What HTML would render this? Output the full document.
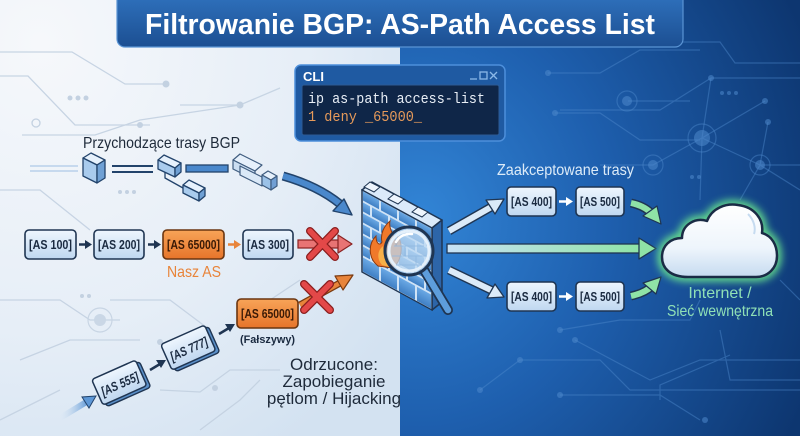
<!DOCTYPE html>
<html><head><meta charset="utf-8"><style>
html,body{margin:0;padding:0;width:800px;height:436px;overflow:hidden;background:#e8eff7}
svg{display:block}
text{font-family:"Liberation Sans",sans-serif}
text.mono{font-family:"Liberation Mono","DejaVu Sans Mono",monospace}
</style></head><body>
<svg width="800" height="436" viewBox="0 0 800 436" xmlns="http://www.w3.org/2000/svg">
<defs>
<radialGradient id="lbg" cx="0.1" cy="0.1" r="1.1">
<stop offset="0" stop-color="#f6f8fb"/><stop offset="0.6" stop-color="#e6eef7"/><stop offset="1" stop-color="#d3e2f1"/></radialGradient>
<radialGradient id="rbg" cx="0.05" cy="0.5" r="1.05">
<stop offset="0" stop-color="#3285d6"/><stop offset="0.45" stop-color="#1e5fae"/><stop offset="1" stop-color="#0d3670"/></radialGradient>
<linearGradient id="ban" x1="0" y1="0" x2="0" y2="1"><stop offset="0" stop-color="#3073bf"/><stop offset="1" stop-color="#1c4f92"/></linearGradient>
<linearGradient id="box" x1="0" y1="0" x2="0" y2="1"><stop offset="0" stop-color="#eef6fe"/><stop offset="1" stop-color="#bfd7f0"/></linearGradient>
<linearGradient id="obox" x1="0" y1="0" x2="0" y2="1"><stop offset="0" stop-color="#f8a458"/><stop offset="1" stop-color="#e6742a"/></linearGradient>
<linearGradient id="cloud" x1="0" y1="0" x2="0" y2="1"><stop offset="0" stop-color="#ffffff"/><stop offset="0.6" stop-color="#eef5fc"/><stop offset="1" stop-color="#c6dbf0"/></linearGradient>
<linearGradient id="mid" x1="0" y1="0" x2="1" y2="0"><stop offset="0" stop-color="#c8e2f6"/><stop offset="1" stop-color="#8fe3a6"/></linearGradient>
<linearGradient id="wall" x1="0" y1="0" x2="0" y2="1"><stop offset="0" stop-color="#6aa8e4"/><stop offset="1" stop-color="#3f7fc4"/></linearGradient>
<linearGradient id="inarr" x1="0" y1="0" x2="1" y2="0"><stop offset="0" stop-color="#cfe0f1" stop-opacity="0"/><stop offset="1" stop-color="#5d97d6"/></linearGradient>
<filter id="glow" x="-30%" y="-30%" width="160%" height="160%"><feGaussianBlur stdDeviation="4"/></filter>
</defs>

<!-- backgrounds -->
<rect x="0" y="0" width="400" height="436" fill="url(#lbg)"/>
<rect x="400" y="0" width="400" height="436" fill="url(#rbg)"/>

<!-- left circuit lines -->
<g stroke="#c3d1e1" stroke-width="1.3" fill="none" opacity="0.9">
<polyline points="0,52 72,52 125,84 166,84"/>
<polyline points="0,76 28,76 75,125 150,125"/>
<polyline points="22,135 95,135 140,120 240,105"/>
<polyline points="180,105 240,105 280,88"/>
<polyline points="0,190 40,190 90,230"/>
<polyline points="0,300 60,300 90,320 120,320"/>
<polyline points="20,360 70,340 140,340"/>
<polyline points="0,420 60,390"/>
<polyline points="110,300 170,300 210,330"/>
<polyline points="160,390 200,392 230,370 280,370"/>
<polyline points="200,430 240,400 260,380"/>
<polyline points="270,300 300,280"/>
</g>
<g fill="#c3d1e1">
<circle cx="166" cy="84" r="3.5"/><circle cx="240" cy="105" r="3.5"/><circle cx="140" cy="125" r="3"/>
<circle cx="70" cy="98" r="2.5"/><circle cx="78" cy="98" r="2.5"/><circle cx="86" cy="98" r="2.5"/>
<circle cx="120" cy="192" r="2"/><circle cx="127" cy="192" r="2"/><circle cx="134" cy="192" r="2"/>
<circle cx="82" cy="296" r="2"/><circle cx="89" cy="296" r="2"/>
<circle cx="215" cy="388" r="3"/><circle cx="160" cy="342" r="3"/>
</g>
<circle cx="36" cy="123" r="4" fill="none" stroke="#c3d1e1" stroke-width="1.3"/>
<circle cx="100" cy="320" r="12" fill="none" stroke="#c8d5e4" stroke-width="1.2"/>
<circle cx="100" cy="320" r="6" fill="#cad7e6"/>

<!-- right circuit lines -->
<g stroke="#4e89cc" stroke-width="1.2" fill="none" opacity="0.45">
<polyline points="640,42 720,42 735,63 800,63"/>
<polyline points="548,73 600,73 640,50 700,50"/>
<polyline points="711,78 800,78"/>
<polyline points="711,78 702,138"/>
<polyline points="711,78 660,110 560,110"/>
<polyline points="628,101 690,101"/>
<polyline points="555,113 600,113 640,140 700,140"/>
<polyline points="702,138 765,101"/>
<polyline points="702,138 653,165 600,165"/>
<polyline points="702,138 760,165 800,190"/>
<polyline points="768,122 760,165 740,200"/>
<polyline points="702,138 700,200"/>
<polyline points="760,165 800,165"/>
<polyline points="560,330 620,320 690,320 700,300"/>
<polyline points="575,340 650,380 700,360 740,360 800,360"/>
<polyline points="480,390 520,360 600,360 630,390 800,390"/>
<polyline points="560,395 660,395 700,420"/>
<polyline points="660,400 660,385 730,355"/>
<polyline points="780,280 800,300"/>
<polyline points="720,330 730,380 800,380"/>
</g>
<g fill="#4e89cc" opacity="0.55">
<circle cx="711" cy="78" r="3"/><circle cx="765" cy="101" r="3"/><circle cx="768" cy="122" r="3"/>
<circle cx="548" cy="73" r="3"/><circle cx="555" cy="113" r="3"/>
<circle cx="722" cy="93" r="2"/><circle cx="729" cy="93" r="2"/><circle cx="736" cy="93" r="2"/>
<circle cx="692" cy="177" r="2"/><circle cx="699" cy="177" r="2"/>
<circle cx="560" cy="330" r="3"/><circle cx="575" cy="340" r="3"/><circle cx="520" cy="360" r="3"/>
<circle cx="560" cy="395" r="3"/><circle cx="705" cy="420" r="3"/><circle cx="480" cy="390" r="3"/>
<circle cx="627" cy="101" r="5"/><circle cx="702" cy="138" r="8"/><circle cx="653" cy="165" r="5"/><circle cx="760" cy="165" r="5"/>
</g>
<g fill="none" stroke="#4e89cc" stroke-width="1.2" opacity="0.45">
<circle cx="627" cy="101" r="10"/><circle cx="702" cy="138" r="14"/><circle cx="653" cy="165" r="10"/><circle cx="760" cy="165" r="10"/>
</g>

<!-- title banner -->
<rect x="117" y="-8" width="566" height="55" rx="8" fill="url(#ban)" stroke="#5a94d4" stroke-width="1.2"/>
<text x="145" y="34" font-size="29" font-weight="bold" fill="#ffffff" textLength="510" lengthAdjust="spacingAndGlyphs">Filtrowanie BGP: AS-Path Access List</text>

<!-- CLI window -->
<rect x="295" y="65" width="210" height="76" rx="6" fill="#1f5aa2" stroke="#4d8fdb" stroke-width="1.5"/>
<rect x="302" y="85" width="197" height="50" rx="2" fill="#0f2648" stroke="#2c5a94" stroke-width="1"/>
<text x="303" y="81" font-size="13" font-weight="bold" fill="#ffffff">CLI</text>
<g stroke="#8bb8e8" stroke-width="1.3" fill="none">
<line x1="470" y1="79" x2="477" y2="79"/><rect x="480" y="72" width="7" height="7"/>
<line x1="490" y1="72" x2="497" y2="79"/><line x1="497" y1="72" x2="490" y2="79"/>
</g>
<text class="mono" x="308" y="103" font-size="15" fill="#e8eef6" textLength="177" lengthAdjust="spacingAndGlyphs">ip as-path access-list</text>
<text class="mono" x="308" y="121" font-size="15" fill="#e69a5a" textLength="114" lengthAdjust="spacingAndGlyphs">1 deny _65000_</text>

<!-- incoming label -->
<text x="83" y="148" font-size="16" fill="#1e2a3a" textLength="157" lengthAdjust="spacingAndGlyphs">Przychodzące trasy BGP</text>

<!-- top-left decorative blocks -->
<g stroke-width="1.5">
<line x1="30" y1="166" x2="78" y2="166" stroke="#b8d0ea"/>
<line x1="30" y1="171" x2="78" y2="171" stroke="#b8d0ea"/>
</g>
<g stroke="#22436b" stroke-width="1.3" stroke-linejoin="round">
<polygon points="83,158 91,153 105,160 97,165" fill="#e6f1fc"/>
<polygon points="83,158 97,165 97,183 83,176" fill="#a9cbed"/>
<polygon points="97,165 105,160 105,178 97,183" fill="#6fa0d4"/>
</g>
<g stroke="#22436b" stroke-width="2">
<line x1="112" y1="166" x2="153" y2="166"/><line x1="112" y1="172" x2="153" y2="172"/>
</g>
<g stroke="#22436b" stroke-width="1.3" stroke-linejoin="round">
<polygon points="158,160 164,155 181,163 175,168" fill="#e6f1fc"/>
<polygon points="158,160 175,168 175,177 158,169" fill="#a9cbed"/>
<polygon points="175,168 181,163 181,172 175,177" fill="#6fa0d4"/>
<polyline points="165,172 165,178 183,188" fill="none"/>
<polygon points="183,185 189,180 205,188 199,193" fill="#e6f1fc"/>
<polygon points="183,185 199,193 199,201 183,193" fill="#a9cbed"/>
<polygon points="199,193 205,188 205,196 199,201" fill="#6fa0d4"/>
</g>
<rect x="186" y="165" width="42" height="7" fill="#4a88cc" stroke="#22436b" stroke-width="1.3"/>
<g stroke="#22436b" stroke-width="1.2" stroke-linejoin="round" opacity="0.85">
<polygon points="233,160 240,154 262,165 255,171" fill="#e6f1fc"/>
<polygon points="233,160 255,171 255,180 233,169" fill="#c6dcf2"/>
<polygon points="240,166 262,177 262,186 240,175" fill="#d8e8f8"/>
<polygon points="262,175 268,171 277,176 271,180" fill="#e6f1fc"/>
<polygon points="262,175 271,180 271,190 262,185" fill="#8fbbe6"/>
<polygon points="271,180 277,176 277,186 271,190" fill="#5d92cf"/>
</g>
<!-- blue curved arrow into firewall -->
<path d="M283,176 Q318,186 340,204" fill="none" stroke="#22436b" stroke-width="9" stroke-linecap="butt"/>
<path d="M283,176 Q318,186 340,204" fill="none" stroke="#4a88cc" stroke-width="6"/>
<polygon points="352,215 333,211 344,199" fill="#4a88cc" stroke="#22436b" stroke-width="1.4" stroke-linejoin="round"/>

<!-- row 1 -->
<g stroke="#1f3552" stroke-width="1.6">
<rect x="25" y="230" width="51" height="29" rx="4" fill="url(#box)"/>
<rect x="94" y="230" width="50" height="29" rx="4" fill="url(#box)"/>
<rect x="163" y="230" width="61" height="29" rx="4" fill="url(#obox)" stroke="#6a3510"/>
<rect x="243" y="230" width="50" height="29" rx="4" fill="url(#box)"/>
</g>
<g font-size="13" font-weight="bold" fill="#1a2a40">
<text x="29" y="249" textLength="43" lengthAdjust="spacingAndGlyphs">[AS 100]</text>
<text x="98" y="249" textLength="42" lengthAdjust="spacingAndGlyphs">[AS 200]</text>
<text x="167" y="249" textLength="53" lengthAdjust="spacingAndGlyphs" fill="#3a1a06">[AS 65000]</text>
<text x="247" y="249" textLength="42" lengthAdjust="spacingAndGlyphs">[AS 300]</text>
</g>
<g stroke="#1f3552" stroke-width="2.5"><line x1="79" y1="244.5" x2="87" y2="244.5"/><line x1="148" y1="244.5" x2="156" y2="244.5"/></g>
<g fill="#1f3552"><polygon points="92,244.5 85,240 85,249"/><polygon points="161,244.5 154,240 154,249"/></g>
<line x1="228" y1="244.5" x2="236" y2="244.5" stroke="#e8843a" stroke-width="2.5"/>
<polygon points="241,244.5 234,240 234,249" fill="#e8843a"/>
<text x="167" y="277" font-size="16" fill="#e8843a" textLength="54" lengthAdjust="spacingAndGlyphs">Nasz AS</text>
<!-- blocked arrow row 1 -->
<rect x="298" y="240" width="42" height="8" fill="#e87474" stroke="#8a2222" stroke-width="1.2"/>
<polygon points="352,244 338,235 338,253" fill="#e87474" stroke="#8a2222" stroke-width="1.2" stroke-linejoin="round"/>
<g stroke-linecap="round">
<line x1="310" y1="231" x2="335" y2="257" stroke="#8a1e1e" stroke-width="8"/>
<line x1="335" y1="231" x2="310" y2="257" stroke="#8a1e1e" stroke-width="8"/>
<line x1="310" y1="231" x2="335" y2="257" stroke="#e34848" stroke-width="5.5"/>
<line x1="335" y1="231" x2="310" y2="257" stroke="#e34848" stroke-width="5.5"/>
</g>

<!-- row 2 (fake) -->
<path d="M60,418 L88,401" stroke="url(#inarr)" stroke-width="6" fill="none"/>
<polygon points="96,396 82,397 89,408" fill="#5d97d6" stroke="#22436b" stroke-width="1"/>
<g transform="translate(121,384) rotate(-24)">
<rect x="-22" y="-13" width="48" height="28" rx="3" fill="#5a8fc8" stroke="#1f3552" stroke-width="1.4"/>
<rect x="-25" y="-16" width="48" height="28" rx="3" fill="url(#box)" stroke="#1f3552" stroke-width="1.5"/>
<text x="-21" y="4" font-size="13" font-weight="bold" font-style="italic" fill="#1a2a40" textLength="40" lengthAdjust="spacingAndGlyphs">[AS 555]</text>
</g>
<g transform="translate(190,349) rotate(-24)">
<rect x="-22" y="-13" width="48" height="28" rx="3" fill="#5a8fc8" stroke="#1f3552" stroke-width="1.4"/>
<rect x="-25" y="-16" width="48" height="28" rx="3" fill="url(#box)" stroke="#1f3552" stroke-width="1.5"/>
<text x="-21" y="4" font-size="13" font-weight="bold" font-style="italic" fill="#1a2a40" textLength="40" lengthAdjust="spacingAndGlyphs">[AS 777]</text>
</g>
<g stroke="#1f3552" stroke-width="2.5"><line x1="150" y1="370" x2="160" y2="364"/><line x1="219" y1="334" x2="229" y2="328"/></g>
<g fill="#1f3552"><polygon points="166,360 156,360 161,368"/><polygon points="235,324 225,324 230,332"/></g>
<rect x="237" y="299" width="61" height="29" rx="4" fill="url(#obox)" stroke="#6a3510" stroke-width="1.6"/>
<text x="241" y="318" font-size="13" font-weight="bold" fill="#3a1a06" textLength="53" lengthAdjust="spacingAndGlyphs">[AS 65000]</text>
<text x="240" y="343" font-size="11" font-weight="bold" fill="#1a2a40" textLength="55" lengthAdjust="spacingAndGlyphs">(Fałszywy)</text>
<!-- orange arrow row 2 -->
<path d="M300,305 L340,283" stroke="#7a3a10" stroke-width="7" fill="none"/>
<path d="M300,305 L340,283" stroke="#e8843a" stroke-width="4.5" fill="none"/>
<polygon points="353,275 335,276 343,290" fill="#e8843a" stroke="#7a3a10" stroke-width="1.2" stroke-linejoin="round"/>
<g stroke-linecap="round">
<line x1="304" y1="284" x2="330" y2="310" stroke="#8a1e1e" stroke-width="8"/>
<line x1="330" y1="284" x2="304" y2="310" stroke="#8a1e1e" stroke-width="8"/>
<line x1="304" y1="284" x2="330" y2="310" stroke="#e34848" stroke-width="5.5"/>
<line x1="330" y1="284" x2="304" y2="310" stroke="#e34848" stroke-width="5.5"/>
</g>
<g font-size="17" fill="#1e2a3a" text-anchor="middle">
<text x="334" y="370">Odrzucone:</text>
<text x="334" y="387">Zapobieganie</text>
<text x="334" y="404">pętlom / Hijacking</text>
</g>

<!-- firewall -->
<polygon points="362,190 372,182 442,220 432,228" fill="#dbeafa" stroke="#1f3552" stroke-width="1.5" stroke-linejoin="round"/>
<g stroke="#1f3552" stroke-width="1" fill="#eef5fd">
<polygon points="364,187 370,182 380,187 374,192"/>
<polygon points="388,199 394,194 404,199 398,204"/>
<polygon points="412,212 418,207 428,212 422,217"/>
</g>
<polygon points="432,228 442,220 442,302 432,310" fill="#2d65a8" stroke="#1f3552" stroke-width="1.5" stroke-linejoin="round"/>
<g transform="matrix(1,0.543,0,1,362,190)">
<rect x="0" y="0" width="70" height="82" fill="#cfe3f6"/>
<g fill="url(#wall)">
<rect x="1" y="1" width="16" height="9"/><rect x="19" y="1" width="16" height="9"/><rect x="37" y="1" width="16" height="9"/><rect x="55" y="1" width="14" height="9"/>
<rect x="1" y="12" width="7" height="9"/><rect x="10" y="12" width="16" height="9"/><rect x="28" y="12" width="16" height="9"/><rect x="46" y="12" width="16" height="9"/><rect x="64" y="12" width="5" height="9"/>
<rect x="1" y="23" width="16" height="9"/><rect x="19" y="23" width="16" height="9"/><rect x="37" y="23" width="16" height="9"/><rect x="55" y="23" width="14" height="9"/>
<rect x="1" y="34" width="7" height="9"/><rect x="10" y="34" width="16" height="9"/><rect x="28" y="34" width="16" height="9"/><rect x="46" y="34" width="16" height="9"/><rect x="64" y="34" width="5" height="9"/>
<rect x="1" y="45" width="16" height="9"/><rect x="19" y="45" width="16" height="9"/><rect x="37" y="45" width="16" height="9"/><rect x="55" y="45" width="14" height="9"/>
<rect x="1" y="56" width="7" height="9"/><rect x="10" y="56" width="16" height="9"/><rect x="28" y="56" width="16" height="9"/><rect x="46" y="56" width="16" height="9"/><rect x="64" y="56" width="5" height="9"/>
<rect x="1" y="67" width="16" height="14"/><rect x="19" y="67" width="16" height="14"/><rect x="37" y="67" width="16" height="14"/><rect x="55" y="67" width="14" height="14"/>
</g>
<rect x="0" y="0" width="70" height="82" fill="none" stroke="#1f3552" stroke-width="1.5"/>
</g>
<!-- flame -->
<path d="M378,266 C368,258 368,244 376,236 C376,244 380,246 382,242 C380,234 384,226 390,221 C388,230 396,236 396,246 C398,242 398,238 397,235 C404,244 402,262 392,268 Z" fill="#f0792a" stroke="#8a3a10" stroke-width="1"/>
<path d="M382,265 C376,258 378,250 383,246 C383,252 387,254 388,250 C392,254 394,262 389,267 Z" fill="#f8b048"/>
<!-- magnifier -->
<line x1="424" y1="270" x2="448" y2="310" stroke="#1f3552" stroke-width="10" stroke-linecap="round"/>
<line x1="424" y1="270" x2="448" y2="310" stroke="#5d9ddc" stroke-width="6.5" stroke-linecap="round"/>
<circle cx="409" cy="251" r="24" fill="#bcd8f2" fill-opacity="0.75" stroke="#1f3552" stroke-width="3"/>
<circle cx="409" cy="251" r="20" fill="none" stroke="#e4f0fb" stroke-width="3"/>
<g stroke="#8fb8e0" stroke-width="1" opacity="0.8">
<line x1="394" y1="246" x2="424" y2="246"/><line x1="392" y1="256" x2="426" y2="256"/><line x1="396" y1="265" x2="422" y2="265"/>
<line x1="405" y1="246" x2="405" y2="256"/><line x1="416" y1="256" x2="416" y2="265"/>
</g>
<path d="M396,242 A16,16 0 0 1 412,234" fill="none" stroke="#ffffff" stroke-width="2.5" stroke-linecap="round"/>

<!-- right side arrows -->
<path d="M449,231 L493,206" stroke="#1f3552" stroke-width="9" fill="none"/>
<path d="M449,231 L493,206" stroke="#dbeaf8" stroke-width="6" fill="none"/>
<polygon points="504,199 486,200 495,214" fill="#dbeaf8" stroke="#1f3552" stroke-width="1.3" stroke-linejoin="round"/>
<path d="M449,270 L493,291" stroke="#1f3552" stroke-width="9" fill="none"/>
<path d="M449,270 L493,291" stroke="#dbeaf8" stroke-width="6" fill="none"/>
<polygon points="504,297 487,298 495,284" fill="#dbeaf8" stroke="#1f3552" stroke-width="1.3" stroke-linejoin="round"/>
<rect x="447" y="244" width="194" height="9" fill="url(#mid)" stroke="#1f3552" stroke-width="1.3"/>
<polygon points="656,248.5 639,238 639,259" fill="#8fe3a6" stroke="#1f3552" stroke-width="1.3" stroke-linejoin="round"/>

<text x="497" y="175" font-size="16" fill="#dcebf8" textLength="137" lengthAdjust="spacingAndGlyphs">Zaakceptowane trasy</text>
<g stroke="#1f3552" stroke-width="1.6">
<rect x="507" y="187" width="49" height="29" rx="4" fill="url(#box)"/>
<rect x="576" y="187" width="48" height="29" rx="4" fill="url(#box)"/>
<rect x="507" y="282" width="49" height="29" rx="4" fill="url(#box)"/>
<rect x="576" y="282" width="48" height="29" rx="4" fill="url(#box)"/>
</g>
<g font-size="13" font-weight="bold" fill="#1a2a40">
<text x="511" y="206" textLength="41" lengthAdjust="spacingAndGlyphs">[AS 400]</text>
<text x="580" y="206" textLength="40" lengthAdjust="spacingAndGlyphs">[AS 500]</text>
<text x="511" y="301" textLength="41" lengthAdjust="spacingAndGlyphs">[AS 400]</text>
<text x="580" y="301" textLength="40" lengthAdjust="spacingAndGlyphs">[AS 500]</text>
</g>
<g stroke="#ffffff" stroke-width="2.5"><line x1="559" y1="201.5" x2="567" y2="201.5"/><line x1="559" y1="296.5" x2="567" y2="296.5"/></g>
<g fill="#ffffff"><polygon points="573,201.5 566,197 566,206"/><polygon points="573,296.5 566,292 566,301"/></g>
<!-- green curved arrows -->
<path d="M631,203 Q645,206 652,214" stroke="#1f3552" stroke-width="9" fill="none"/>
<path d="M631,203 Q645,206 652,214" stroke="#8fe3a6" stroke-width="6" fill="none"/>
<polygon points="661,224 643,216 657,206" fill="#8fe3a6" stroke="#1f3552" stroke-width="1.2" stroke-linejoin="round"/>
<path d="M631,296 Q645,293 652,286" stroke="#1f3552" stroke-width="9" fill="none"/>
<path d="M631,296 Q645,293 652,286" stroke="#8fe3a6" stroke-width="6" fill="none"/>
<polygon points="661,277 643,283 656,294" fill="#8fe3a6" stroke="#1f3552" stroke-width="1.2" stroke-linejoin="round"/>

<!-- cloud -->
<path d="M688,277 C670,277 662,268 662,257 C662,246 670,238 682,238 C682,225 695,217 707,221 C712,208 726,203 738,205 C755,207 764,220 762,233 C772,236 777,245 777,256 C777,268 768,277 756,277 Z" fill="none" stroke="#6ff08e" stroke-width="9" filter="url(#glow)" opacity="0.9"/>
<path d="M688,277 C670,277 662,268 662,257 C662,246 670,238 682,238 C682,225 695,217 707,221 C712,208 726,203 738,205 C755,207 764,220 762,233 C772,236 777,245 777,256 C777,268 768,277 756,277 Z" fill="url(#cloud)" stroke="#1a2b45" stroke-width="2.5" stroke-linejoin="round"/>
<path d="M748,214 C754,220 756,228 754,234" fill="none" stroke="#c6dbf0" stroke-width="2"/>
<text x="720" y="298" font-size="16" fill="#8fe0b6" text-anchor="middle">Internet /</text>
<text x="720" y="316" font-size="16" fill="#8fe0b6" text-anchor="middle" textLength="106" lengthAdjust="spacingAndGlyphs">Sieć wewnętrzna</text>
</svg>
</body></html>
